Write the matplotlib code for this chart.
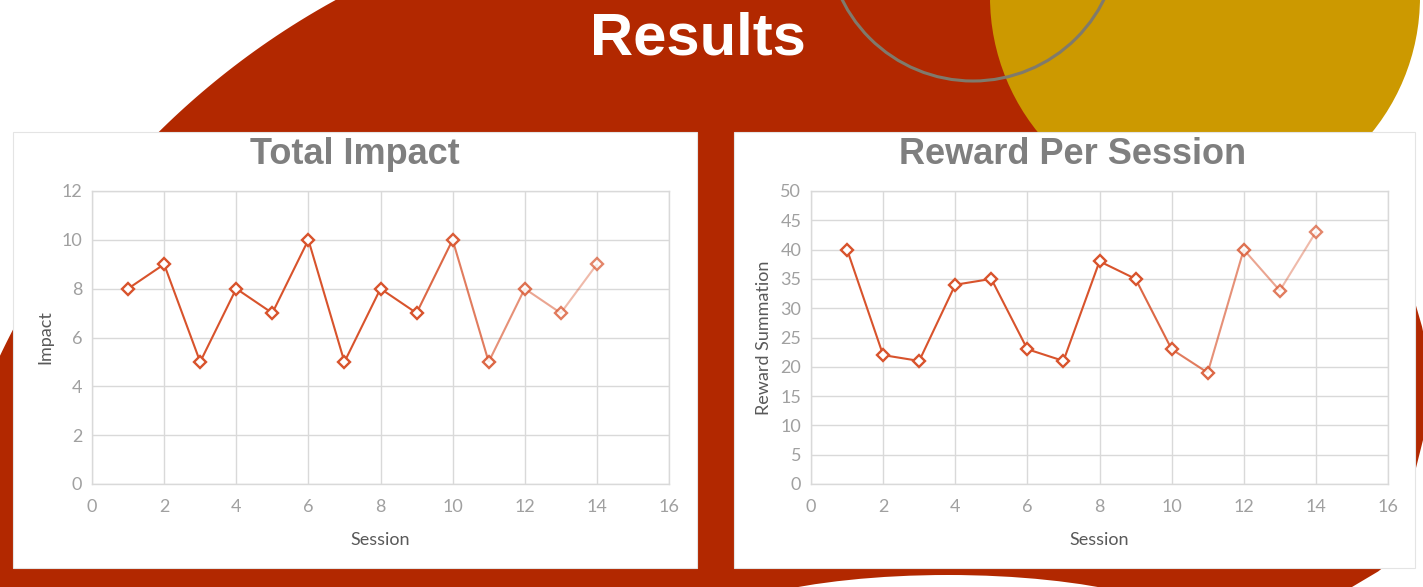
import numpy as np
import matplotlib
matplotlib.use("Agg")
import matplotlib.pyplot as plt
from matplotlib.patches import Circle, Ellipse, Polygon, Rectangle
from matplotlib.collections import LineCollection

# data
sessions = [1, 2, 3, 4, 5, 6, 7, 8, 9, 10, 11, 12, 13, 14]
impact = [8, 9, 5, 8, 7, 10, 5, 8, 7, 10, 5, 8, 7, 9]
reward = [40, 22, 21, 34, 35, 23, 21, 38, 35, 23, 19, 40, 33, 43]

x_ticks = [0, 2, 4, 6, 8, 10, 12, 14, 16]
impact_ticks = [0, 2, 4, 6, 8, 10, 12]
reward_ticks = [0, 5, 10, 15, 20, 25, 30, 35, 40, 45, 50]

RED = "#B22800"
GOLD = "#CC9900"
LINE = "#D8532C"
GRID = "#D9D9D9"
TICK = "#A0A0A0"
LABEL = "#595959"
W, H = 1423, 587

fig = plt.figure(figsize=(W / 100, H / 100), dpi=100)

# slide background, drawn in pixel coordinates
bg = fig.add_axes([0, 0, 1, 1])
bg.set_xlim(0, W)
bg.set_ylim(H, 0)
bg.axis("off")

# big red shape: circular left side, hand-fit right side
ys = np.linspace(-10, H + 10, 120)
left_x = 718 - np.sqrt(795 ** 2 - (ys - 697) ** 2)
ry = [-10, 0, 132, 250, 330, 420, 500, 568, 587, 597]
rx = [1240, 1250, 1330, 1400, 1423, 1428, 1408, 1384, 1352, 1335]
right_x = np.interp(ys[::-1], ry, rx)
pts = np.vstack([np.column_stack([left_x, ys]),
                 np.column_stack([right_x, ys[::-1]])])
bg.add_patch(Polygon(pts, closed=True, facecolor=RED, edgecolor="none", zorder=1))
bg.add_patch(Circle((1205, -3), 215, facecolor=GOLD, edgecolor="none", zorder=2))
bg.add_patch(Circle((973, -65), 146, facecolor="none", edgecolor="#7F7A6C",
                    linewidth=2.2, zorder=3))
bg.add_patch(Ellipse((948, 640), 518, 130, facecolor="white", edgecolor="none", zorder=2))

bg.text(698, 39, "Results", color="white", fontsize=43, fontweight="bold",
        family="Liberation Sans", ha="center", va="center", zorder=4)

# white chart panels
for x0, x1 in [(13, 697), (734, 1415)]:
    bg.add_patch(Rectangle((x0, 132), x1 - x0, 568 - 132, facecolor="white",
                           edgecolor="#E4E4E4", linewidth=0.8, zorder=5))


def draw_chart(rect, values, yticks, title, ylabel, title_x):
    ax = fig.add_axes(rect)
    ax.set_facecolor("none")
    ax.set_xlim(x_ticks[0], x_ticks[-1])
    ax.set_ylim(yticks[0], yticks[-1])
    ax.set_xticks(x_ticks)
    ax.set_yticks(yticks)
    ax.grid(True, color=GRID, linewidth=1.0)
    ax.set_axisbelow(True)
    for s in ax.spines.values():
        s.set_color(GRID)
        s.set_linewidth(1.0)
    ax.tick_params(length=0, labelsize=13, labelcolor=TICK)
    ax.tick_params(axis="x", pad=11)
    ax.tick_params(axis="y", pad=7)
    for lab in ax.get_xticklabels() + ax.get_yticklabels():
        lab.set_family("Lato")

    # fading line, like the original office chart
    pts = np.column_stack([sessions, values])
    segs = np.stack([pts[:-1], pts[1:]], axis=1)
    fade = np.clip(1.0 - 0.12 * (np.arange(len(segs)) - 7), 0.35, 1.0)
    lc = LineCollection(segs, colors=LINE, linewidths=1.5, zorder=3)
    lc.set_alpha(fade)
    ax.add_collection(lc)
    mfade = np.clip(1.0 - 0.06 * (np.arange(len(sessions)) - 8), 0.7, 1.0)
    for s, v, a in zip(sessions, values, mfade):
        ax.plot(s, v, marker="D", ms=6.5, mfc="white", mec=LINE, mew=1.7,
                alpha=a, zorder=4, clip_on=False)

    ax.set_xlabel("Session", fontsize=13, color=LABEL, family="Lato", labelpad=12)
    ax.set_ylabel(ylabel, fontsize=13, color=LABEL, family="Lato", labelpad=6)
    fig.text(title_x / W, 1 - 154 / H, title, fontsize=26, fontweight="bold",
             color="#7F7F7F", family="Liberation Sans", ha="center", va="center")
    return ax


ax_b, ax_h = 1 - 484 / H, (484 - 191) / H
draw_chart([92 / W, ax_b, 577 / W, ax_h], impact, impact_ticks,
           "Total Impact", "Impact", 355)
draw_chart([811 / W, ax_b, 577 / W, ax_h], reward, reward_ticks,
           "Reward Per Session", "Reward Summation", 1073)

fig.savefig("out.png", dpi=100)
